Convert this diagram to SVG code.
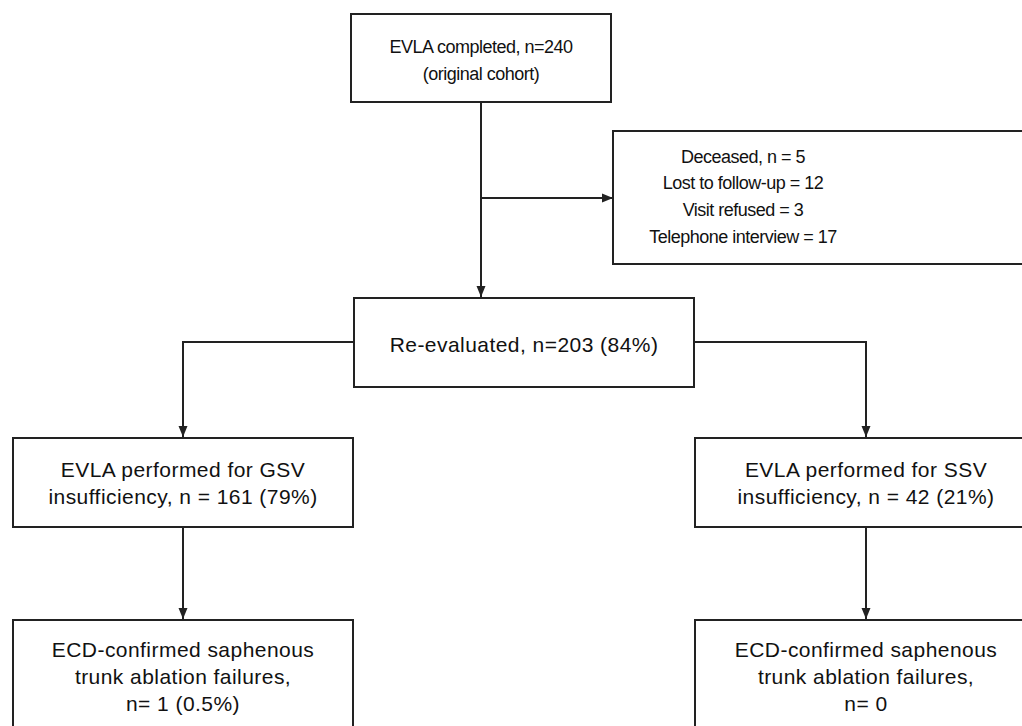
<svg xmlns="http://www.w3.org/2000/svg" width="1022" height="726" viewBox="0 0 1022 726">
<style>
.box{fill:#fff;stroke:#222;stroke-width:2}
.con{fill:none;stroke:#222;stroke-width:2}
.s{font-family:"Liberation Sans",Arial,sans-serif;font-size:18px;fill:#111;text-anchor:middle;letter-spacing:-0.5px}
.l{font-family:"Liberation Sans",Arial,sans-serif;font-size:21px;fill:#111;text-anchor:middle;letter-spacing:0.45px}
</style>
<defs>
<marker id="ah" markerUnits="userSpaceOnUse" markerWidth="12" markerHeight="10" refX="11" refY="5" orient="auto">
<path d="M0,0.5 L11,5 L0,9.5 z" fill="#222"/>
</marker>
</defs>
<rect width="1022" height="726" fill="#fff"/>
<g id="connectors">
<line class="con" x1="481" y1="102" x2="481" y2="297" marker-end="url(#ah)"/>
<line class="con" x1="481" y1="198" x2="613" y2="198" marker-end="url(#ah)"/>
<polyline class="con" points="354,342 183,342 183,437" marker-end="url(#ah)"/>
<polyline class="con" points="694,342 866,342 866,437" marker-end="url(#ah)"/>
<line class="con" x1="183" y1="527" x2="183" y2="619" marker-end="url(#ah)"/>
<line class="con" x1="866" y1="527" x2="866" y2="619" marker-end="url(#ah)"/>
</g>
<g id="n-completed">
<rect class="box" x="351" y="14" width="260" height="88"/>
<text class="s" x="481" y="53">EVLA completed, n=240</text>
<text class="s" x="481" y="80">(original cohort)</text>
</g>
<g id="n-excluded">
<rect class="box" x="613" y="131" width="430" height="133"/>
<text class="s" x="743" y="163">Deceased, n = 5</text>
<text class="s" x="743" y="189">Lost to follow-up = 12</text>
<text class="s" x="743" y="216">Visit refused = 3</text>
<text class="s" x="743" y="243">Telephone interview = 17</text>
</g>
<g id="n-reevaluated">
<rect class="box" x="354" y="298" width="340" height="89"/>
<text class="l" x="524" y="352">Re-evaluated, n=203 (84%)</text>
</g>
<g id="n-gsv">
<rect class="box" x="13" y="438" width="340" height="89"/>
<text class="l" x="183" y="477">EVLA performed for GSV</text>
<text class="l" x="183" y="504">insufficiency, n = 161 (79%)</text>
</g>
<g id="n-ssv">
<rect class="box" x="695" y="438" width="342" height="89"/>
<text class="l" x="866" y="477">EVLA performed for SSV</text>
<text class="l" x="866" y="504">insufficiency, n = 42 (21%)</text>
</g>
<g id="n-gsv-fail">
<rect class="box" x="13" y="620" width="340" height="120"/>
<text class="l" x="183" y="657">ECD-confirmed saphenous</text>
<text class="l" x="183" y="684">trunk ablation failures,</text>
<text class="l" x="183" y="711">n= 1 (0.5%)</text>
</g>
<g id="n-ssv-fail">
<rect class="box" x="695" y="620" width="342" height="120"/>
<text class="l" x="866" y="657">ECD-confirmed saphenous</text>
<text class="l" x="866" y="684">trunk ablation failures,</text>
<text class="l" x="866" y="711">n= 0</text>
</g>
</svg>
